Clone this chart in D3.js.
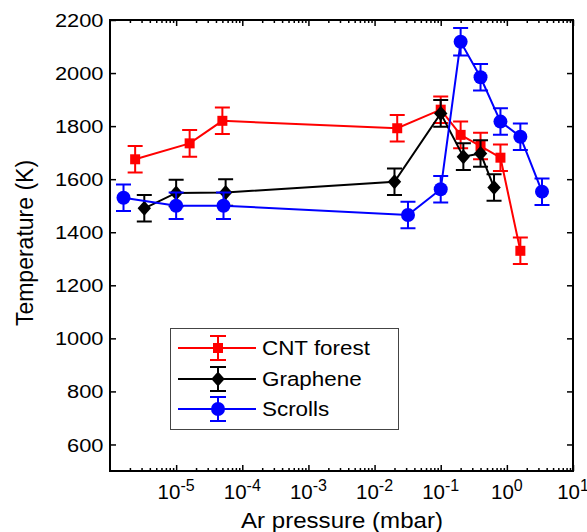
<!DOCTYPE html>
<html>
<head>
<meta charset="utf-8">
<script src="https://cdn.jsdelivr.net/npm/d3@7"></script>
<style>
    body { margin: 0; background: #fff; }
    text { font-family: "Liberation Sans", Arial, sans-serif; fill: #000; }
    .tick line { stroke: #000; stroke-width: 1.5; }
</style>
</head>
<body>
<svg id="chart"></svg>
<script>
// Values
var cntPressure = [2.4e-6, 1.6e-5, 5e-5, 0.022, 0.1, 0.2, 0.4, 0.8, 1.6];
var cntTemp = [1675, 1735, 1820, 1792, 1862, 1767, 1725, 1681, 1330];
var cntErr = [50, 50, 50, 50, 50, 50, 50, 50, 50];

var graphenePressure = [3.3e-6, 1e-5, 5.6e-5, 0.02, 0.1, 0.22, 0.4, 0.64];
var grapheneTemp = [1490, 1548, 1550, 1590, 1848, 1685, 1697, 1569];
var grapheneErr = [50, 50, 50, 50, 50, 50, 50, 50];

var scrollsPressure = [1.6e-6, 1e-5, 5.2e-5, 0.032, 0.1, 0.2, 0.4, 0.8, 1.6, 3.4];
var scrollsTemp = [1530, 1500, 1500, 1465, 1562, 2118, 1984, 1817, 1760, 1553];
var scrollsErr = [50, 50, 50, 50, 50, 52, 50, 50, 50, 50];

var seriesNames = ["CNT forest", "Graphene", "Scrolls"];
var xTickExponents = [-5, -4, -3, -2, -1, 0, 1];
var yTicks = [600, 800, 1000, 1200, 1400, 1600, 1800, 2000, 2200];

var series = [
    { name: seriesNames[0], color: "#ff0000", marker: "square",
      data: cntPressure.map((p, i) => ({ p: p, t: cntTemp[i], e: cntErr[i] })) },
    { name: seriesNames[1], color: "#000000", marker: "diamond",
      data: graphenePressure.map((p, i) => ({ p: p, t: grapheneTemp[i], e: grapheneErr[i] })) },
    { name: seriesNames[2], color: "#0000ff", marker: "circle",
      data: scrollsPressure.map((p, i) => ({ p: p, t: scrollsTemp[i], e: scrollsErr[i] })) }
];

// Plot area edges in pixels
var W = 587, H = 532;
var plotLeft = 110, plotRight = 573, plotTop = 20, plotBottom = 471;

var svg = d3.select("#chart").attr("width", W).attr("height", H);

var x = d3.scaleLog().domain([1e-6, 10]).range([plotLeft, plotRight]);
var y = d3.scaleLinear().domain([500, 2200]).range([plotBottom, plotTop]);

var majorX = xTickExponents.map(e => Math.pow(10, e));
var minorX = x.ticks().filter(v => Math.abs(Math.log10(v) - Math.round(Math.log10(v))) > 1e-6);

// Inward ticks on all four sides
function ticksOn(axisFn, pos, values, len) {
    svg.append("g")
        .attr("transform", pos)
        .call(axisFn.tickValues(values).tickSize(len).tickFormat("").tickSizeOuter(0))
        .call(g => g.select(".domain").remove());
}
ticksOn(d3.axisBottom(x), "translate(0," + plotBottom + ")", majorX, -6);
ticksOn(d3.axisBottom(x), "translate(0," + plotBottom + ")", minorX, -3);
ticksOn(d3.axisTop(x), "translate(0," + plotTop + ")", majorX, -6);
ticksOn(d3.axisTop(x), "translate(0," + plotTop + ")", minorX, -3);
ticksOn(d3.axisLeft(y), "translate(" + plotLeft + ",0)", yTicks, -6);
ticksOn(d3.axisRight(y), "translate(" + plotRight + ",0)", yTicks, -6);

// Frame
svg.append("rect")
    .attr("x", plotLeft).attr("y", plotTop)
    .attr("width", plotRight - plotLeft).attr("height", plotBottom - plotTop)
    .attr("fill", "none").attr("stroke", "#000").attr("stroke-width", 2);

// Y tick labels
svg.append("g").selectAll("g")
    .data(yTicks)
    .enter().append("g")
    .attr("transform", d => "translate(103.5," + y(d) + ")")
    .append("text")
    .attr("transform", "scale(1.18,1)")
    .attr("text-anchor", "end")
    .attr("dy", "0.38em")
    .style("font-size", "18.5px")
    .text(d => d);

// X tick labels: 10^n
var xl = svg.append("g").selectAll("text")
    .data(xTickExponents)
    .enter().append("text")
    .attr("x", d => x(Math.pow(10, d)))
    .attr("y", 498.5)
    .attr("text-anchor", "middle")
    .style("font-size", "20.5px");
xl.append("tspan").text("10");
xl.append("tspan").attr("dy", -8).style("font-size", "16px").text(d => d);

// Axis titles
svg.append("text")
    .attr("transform", "translate(342,528) scale(1.12,1)")
    .attr("text-anchor", "middle")
    .style("font-size", "21.5px")
    .text("Ar pressure (mbar)");

svg.append("text")
    .attr("transform", "translate(33,243) rotate(-90)")
    .attr("text-anchor", "middle")
    .style("font-size", "23px")
    .text("Temperature (K)");

// Marker drawing
function drawMarker(sel, kind, color) {
    if (kind === "square") {
        sel.append("rect").attr("x", -5).attr("y", -5).attr("width", 10).attr("height", 10).attr("fill", color);
    } else if (kind === "diamond") {
        sel.append("path").attr("d", "M0,-7.5L6.7,0L0,7.5L-6.7,0Z").attr("fill", color);
    } else {
        sel.append("circle").attr("r", 7).attr("fill", color);
    }
}

var line = d3.line().x(d => x(d.p)).y(d => y(d.t));

series.forEach(function (s) {
    var g = svg.append("g");

    g.append("path")
        .datum(s.data)
        .attr("d", line)
        .attr("fill", "none")
        .attr("stroke", s.color)
        .attr("stroke-width", 2);

    var pts = g.selectAll(".pt")
        .data(s.data)
        .enter().append("g")
        .attr("transform", d => "translate(" + x(d.p) + "," + y(d.t) + ")");

    // error bars
    pts.append("path")
        .attr("d", d => {
            var h1 = y(d.t + d.e) - y(d.t), h2 = y(d.t - d.e) - y(d.t);
            return "M0," + h1 + "V" + h2 + "M-7.5," + h1 + "H7.5M-7.5," + h2 + "H7.5";
        })
        .attr("fill", "none")
        .attr("stroke", s.color)
        .attr("stroke-width", 2);

    pts.each(function () { drawMarker(d3.select(this), s.marker, s.color); });
});

// Legend
svg.append("rect")
    .attr("x", 170.5).attr("y", 328.5)
    .attr("width", 228).attr("height", 101)
    .attr("fill", "#fff").attr("stroke", "#444").attr("stroke-width", 1);

var legendRows = [348, 379, 409];
series.forEach(function (s, i) {
    var ly = legendRows[i];
    var lg = svg.append("g").attr("transform", "translate(218," + ly + ")");
    lg.append("line").attr("x1", -40).attr("x2", 38).attr("stroke", s.color).attr("stroke-width", 2);
    lg.append("path")
        .attr("d", "M0,-12V12M-8,-12H8M-8,12H8")
        .attr("stroke", s.color).attr("stroke-width", 2).attr("fill", "none");
    drawMarker(lg, s.marker, s.color);

    svg.append("text")
        .attr("transform", "translate(262," + (ly + 7) + ") scale(1.15,1)")
        .style("font-size", "19.5px")
        .text(s.name);
});
</script>
</body>
</html>
